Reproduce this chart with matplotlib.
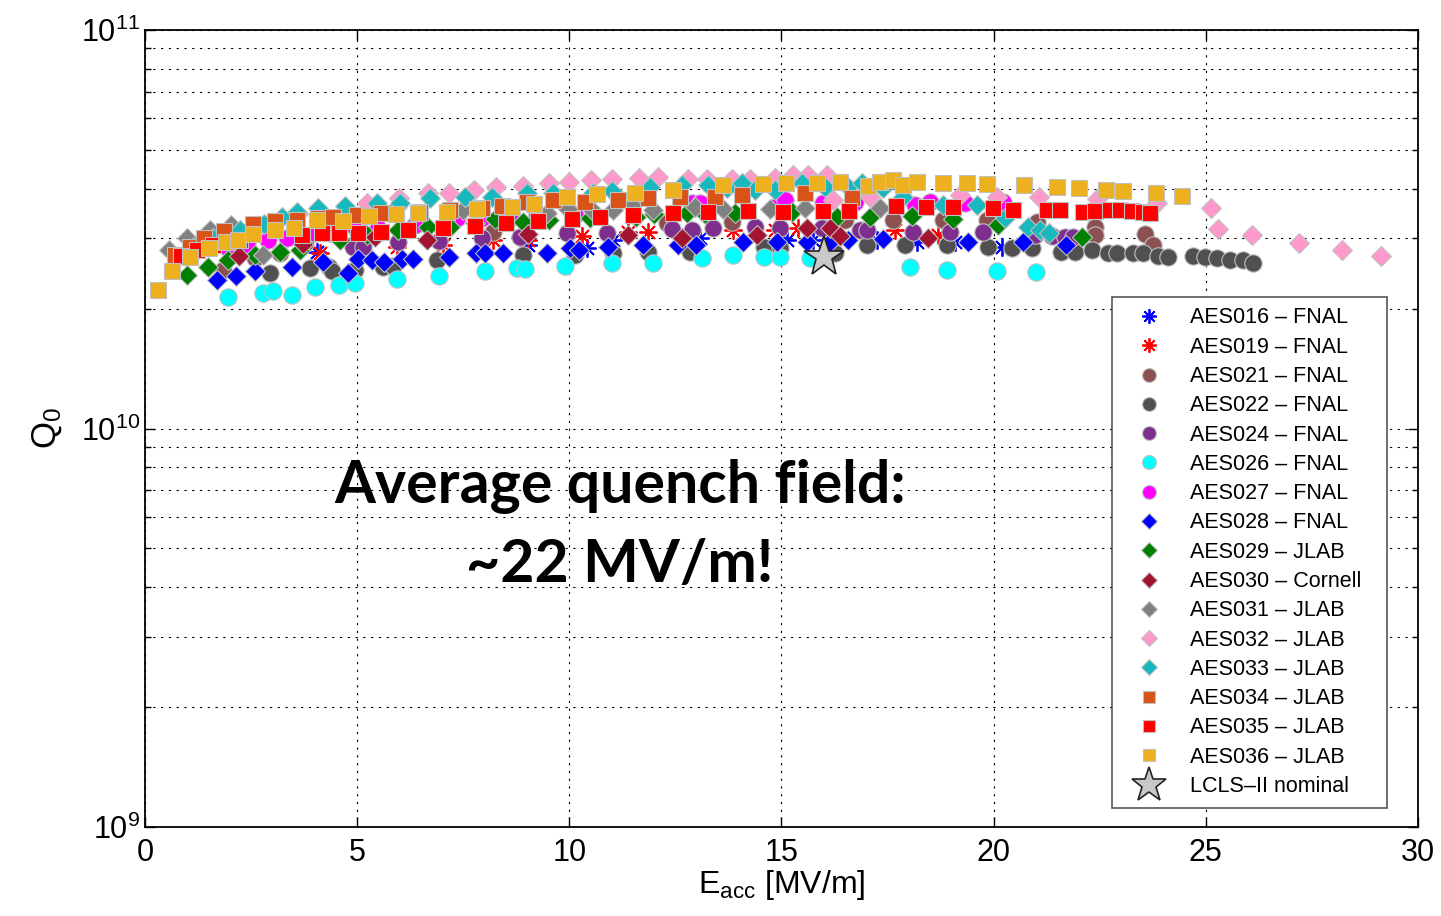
import matplotlib
matplotlib.use("Agg")
from matplotlib import pyplot as plt
from matplotlib.ticker import LogLocator, NullFormatter

plt.rcParams["font.family"] = ["Liberation Sans", "DejaVu Sans"]
plt.rcParams["mathtext.fontset"] = "custom"
plt.rcParams["mathtext.rm"] = "Liberation Sans"
plt.rcParams["mathtext.it"] = "Liberation Sans:italic"

# Q0 values in units of 1e10, Eacc in MV/m
aes016_x = [4.05, 9.03, 10.42, 11.03, 13.08, 15.13, 15.74, 17.25, 18.19, 19.09, 20.20]
aes016_q = [2.78, 2.89, 2.84, 2.97, 3.00, 2.97, 2.97, 2.97, 2.93, 2.93, 2.86]

aes019_x = [4.12, 5.94, 7.02, 8.20, 9.03, 10.30, 11.38, 11.85, 13.86, 14.85, 15.39, 17.68, 18.69]
aes019_q = [2.76, 2.86, 2.89, 2.97, 2.97, 3.04, 3.11, 3.11, 3.15, 3.15, 3.18, 3.15, 3.06]

aes021_x = [1.84, 2.59, 3.18, 3.77, 8.20, 12.30, 13.83, 16.50, 17.63, 18.81, 19.84, 21.02,
            22.39, 22.39, 23.57, 23.76]
aes021_q = [2.50, 2.68, 2.76, 2.92, 3.11, 3.28, 3.30, 3.34, 3.34, 3.34, 3.34, 3.30,
            3.20, 3.06, 3.07, 2.89]

aes022_x = [2.95, 3.89, 4.34, 4.41, 4.95, 5.61, 5.84, 6.88, 8.91, 10.13, 11.03, 11.85, 12.84,
            14.59, 14.97, 16.26, 17.02, 17.91, 18.90, 19.87, 20.43, 20.90, 21.59, 21.92,
            22.32, 22.70, 22.91, 23.29, 23.52, 23.87, 24.11, 24.70, 24.98, 25.27, 25.57,
            25.88, 26.11]
aes022_q = [2.46, 2.53, 2.55, 2.48, 2.50, 2.55, 2.56, 2.65, 2.73, 2.73, 2.76, 2.78, 2.78,
            2.86, 2.84, 2.76, 2.88, 2.88, 2.88, 2.86, 2.83, 2.83, 2.78, 2.78,
            2.81, 2.76, 2.75, 2.76, 2.75, 2.71, 2.70, 2.71, 2.70, 2.68, 2.65,
            2.65, 2.60]

aes024_x = [4.90, 5.14, 5.96, 6.93, 7.94, 8.84, 9.95, 10.89, 12.42, 12.89, 13.39, 14.38,
            14.97, 15.96, 16.85, 17.02, 18.10, 18.97, 19.75, 20.98, 21.38, 21.68, 21.87]
aes024_q = [2.86, 2.86, 2.94, 2.96, 3.00, 3.02, 3.09, 3.09, 3.17, 3.15, 3.18, 3.20,
            3.18, 3.18, 3.15, 3.15, 3.11, 3.11, 3.11, 3.06, 3.04, 3.02, 3.02]

aes026_x = [1.96, 2.78, 3.02, 3.46, 4.01, 4.57, 4.95, 5.94, 6.93, 8.01, 8.77, 8.96, 9.90,
            11.01, 11.97, 13.13, 13.86, 14.59, 14.97, 15.67, 18.03, 18.90, 20.08, 21.00]
aes026_q = [2.14, 2.19, 2.21, 2.16, 2.27, 2.29, 2.32, 2.37, 2.42, 2.48, 2.53, 2.52, 2.56,
            2.60, 2.60, 2.68, 2.73, 2.70, 2.70, 2.68, 2.54, 2.50, 2.48, 2.47]

aes027_x = [1.18, 1.96, 2.40, 2.90, 3.35, 4.01, 4.36, 4.95, 5.49, 6.36, 7.35, 7.94, 8.60,
            9.24, 10.13, 12.89, 13.08, 14.85, 15.08, 15.98, 16.73, 18.15, 18.50, 19.33, 20.22]
aes027_q = [2.89, 2.83, 2.89, 2.97, 3.00, 3.09, 3.09, 3.20, 3.18, 3.24, 3.38, 3.38, 3.38,
            3.43, 3.43, 3.68, 3.68, 3.60, 3.74, 3.68, 3.70, 3.64, 3.70, 3.68, 3.70]

aes028_x = [1.70, 2.14, 2.59, 3.46, 4.20, 4.78, 5.02, 5.35, 5.63, 6.06, 6.32, 7.16, 7.80,
            8.01, 8.44, 9.47, 10.02, 10.23, 10.91, 11.74, 12.56, 12.99, 14.09, 14.90,
            15.60, 16.14, 16.57, 17.39, 19.40, 20.69, 21.71]
aes028_q = [2.36, 2.42, 2.48, 2.55, 2.62, 2.46, 2.66, 2.65, 2.62, 2.66, 2.66, 2.70, 2.75,
            2.75, 2.75, 2.76, 2.83, 2.81, 2.86, 2.88, 2.89, 2.88, 2.93, 2.94,
            2.94, 2.94, 2.97, 2.99, 2.94, 2.94, 2.89]

aes029_x = [0.99, 1.48, 1.96, 2.59, 3.18, 3.65, 4.60, 5.23, 5.96, 6.67, 7.19, 7.78, 8.25,
            8.91, 9.52, 10.49, 11.57, 12.00, 12.77, 13.20, 13.91, 15.25, 16.31, 17.09,
            18.08, 19.04, 20.10, 22.08]
aes029_q = [2.43, 2.55, 2.65, 2.73, 2.78, 2.81, 2.97, 3.06, 3.15, 3.20, 3.20, 3.28, 3.36,
            3.30, 3.34, 3.38, 3.40, 3.45, 3.47, 3.45, 3.47, 3.49, 3.40, 3.40,
            3.41, 3.36, 3.24, 3.02]

aes030_x = [2.22, 3.72, 5.42, 6.65, 9.03, 11.38, 12.66, 14.42, 15.60, 16.14, 16.38, 18.45]
aes030_q = [2.71, 2.91, 3.02, 2.97, 3.07, 3.06, 3.00, 3.06, 3.18, 3.18, 3.04, 3.00]

aes031_x = [0.57, 0.99, 1.53, 2.03, 2.78, 5.94, 7.49, 9.47, 9.97, 10.54, 11.03, 11.48, 11.97,
            12.96, 13.62, 14.73, 15.56, 17.32]
aes031_q = [2.81, 3.00, 3.15, 3.24, 2.73, 3.60, 3.53, 3.47, 3.55, 3.53, 3.53, 3.64, 3.53,
            3.60, 3.55, 3.55, 3.58, 3.58]

aes032_x = [3.60, 5.23, 5.99, 6.67, 7.16, 7.75, 8.27, 8.91, 9.52, 9.99, 10.51, 11.01, 11.64,
            12.09, 12.80, 13.25, 13.83, 14.26, 14.85, 15.27, 15.63, 16.07, 16.22, 17.09,
            19.21, 20.08, 21.07, 22.44, 23.85, 25.12, 25.29, 26.09, 27.20, 28.21, 29.13]
aes032_q = [3.45, 3.68, 3.78, 3.89, 3.89, 3.97, 4.03, 4.05, 4.12, 4.15, 4.20, 4.24, 4.26,
            4.28, 4.24, 4.24, 4.24, 4.24, 4.26, 4.33, 4.33, 4.33, 3.74, 3.80,
            3.85, 3.80, 3.82, 3.76, 3.68, 3.58, 3.17, 3.06, 2.92, 2.81, 2.71]

aes033_x = [1.20, 1.60, 2.24, 2.80, 3.23, 3.58, 4.08, 4.71, 5.47, 6.01, 6.72, 7.54, 8.18,
            9.00, 9.62, 10.56, 11.01, 11.90, 12.66, 13.27, 13.72, 14.07, 14.38, 14.85,
            15.48, 16.03, 16.57, 16.90, 17.39, 17.86, 18.81, 19.61, 20.27, 20.81, 21.09, 21.31]
aes033_q = [2.89, 3.00, 3.15, 3.26, 3.40, 3.49, 3.58, 3.62, 3.68, 3.68, 3.78, 3.80, 3.80,
            3.91, 3.91, 3.91, 3.94, 4.03, 4.08, 4.08, 4.01, 4.12, 3.97, 3.97,
            4.12, 4.03, 4.03, 4.12, 4.01, 3.80, 3.64, 3.64, 3.38, 3.20, 3.15, 3.09]

aes034_x = [0.71, 1.06, 1.39, 1.86, 2.55, 3.06, 3.58, 4.08, 4.43, 5.00, 5.56, 6.48, 7.19,
            7.94, 8.41, 9.00, 9.62, 10.37, 11.15, 11.85, 12.61, 13.43, 14.07, 15.56, 16.66]
aes034_q = [2.73, 2.86, 3.00, 3.13, 3.26, 3.32, 3.34, 3.38, 3.40, 3.43, 3.47, 3.49, 3.53,
            3.58, 3.62, 3.70, 3.74, 3.70, 3.74, 3.78, 3.80, 3.80, 3.85, 3.89, 3.78]

aes035_x = [0.85, 1.23, 1.60, 2.24, 3.70, 4.17, 4.57, 5.02, 5.56, 6.20, 7.02, 7.78, 8.51,
            9.26, 10.06, 10.72, 11.50, 12.44, 13.27, 14.21, 15.04, 15.98, 16.59, 17.70,
            18.41, 19.04, 19.99, 20.46, 21.26, 21.56, 22.11, 22.39, 22.74, 22.98, 23.26,
            23.52, 23.69]
aes035_q = [2.71, 2.81, 2.89, 2.97, 3.06, 3.09, 3.09, 3.09, 3.11, 3.15, 3.18, 3.22, 3.28,
            3.32, 3.36, 3.39, 3.43, 3.47, 3.49, 3.51, 3.49, 3.51, 3.51, 3.62,
            3.60, 3.60, 3.58, 3.53, 3.53, 3.53, 3.49, 3.51, 3.53, 3.53, 3.51,
            3.49, 3.47]

aes036_x = [0.31, 0.64, 1.06, 1.51, 1.91, 2.19, 2.55, 3.06, 3.51, 4.05, 4.67, 5.28, 5.92,
            6.43, 7.12, 7.83, 8.65, 9.17, 9.95, 10.65, 11.55, 12.44, 13.62, 14.57, 15.11,
            15.84, 16.38, 17.04, 17.32, 17.63, 17.86, 18.19, 18.81, 19.37, 19.84, 20.72,
            21.49, 22.01, 22.65, 23.05, 23.83, 24.44]
aes036_q = [2.23, 2.48, 2.70, 2.83, 2.94, 2.98, 3.07, 3.15, 3.18, 3.34, 3.32, 3.41, 3.45,
            3.47, 3.49, 3.55, 3.60, 3.66, 3.80, 3.87, 3.91, 3.97, 4.08, 4.10, 4.12,
            4.12, 4.15, 4.06, 4.15, 4.20, 4.08, 4.15, 4.12, 4.12, 4.10, 4.08,
            4.03, 4.01, 3.97, 3.94, 3.89, 3.83]

lcls_x = [16.0]
lcls_q = [2.7]

labels = ["AES016 – FNAL", "AES019 – FNAL", "AES021 – FNAL", "AES022 – FNAL",
          "AES024 – FNAL", "AES026 – FNAL", "AES027 – FNAL", "AES028 – FNAL",
          "AES029 – JLAB", "AES030 – Cornell", "AES031 – JLAB", "AES032 – JLAB",
          "AES033 – JLAB", "AES034 – JLAB", "AES035 – JLAB", "AES036 – JLAB",
          "LCLS–II nominal"]

star8 = (8, 2, 0)
series = [
    (aes016_x, aes016_q, star8, "#0000FF", 13),
    (aes019_x, aes019_q, star8, "#FF0000", 13),
    (aes021_x, aes021_q, "o", "#8B5050", 12.5),
    (aes022_x, aes022_q, "o", "#505050", 12.5),
    (aes024_x, aes024_q, "o", "#7E2F8E", 12.5),
    (aes026_x, aes026_q, "o", "#00FFFF", 12.5),
    (aes027_x, aes027_q, "o", "#FF00FF", 12.5),
    (aes028_x, aes028_q, "D", "#0000FF", 10),
    (aes029_x, aes029_q, "D", "#008000", 10),
    (aes030_x, aes030_q, "D", "#A2142F", 10),
    (aes031_x, aes031_q, "D", "#808080", 10),
    (aes032_x, aes032_q, "D", "#FF99CC", 10),
    (aes033_x, aes033_q, "D", "#17B8BE", 10),
    (aes034_x, aes034_q, "s", "#D95319", 11),
    (aes035_x, aes035_q, "s", "#FF0000", 11),
    (aes036_x, aes036_q, "s", "#EDB120", 11),
]

fig = plt.figure(figsize=(14.41, 9.16), dpi=100)
ax = fig.add_axes([0.1006, 0.0972, 0.8834, 0.870])

for (xs, qs, mk, col, ms), lab in zip(series, labels):
    qv = [q * 1e10 for q in qs]
    if mk == star8:
        ax.plot(xs, qv, ls="none", marker=mk, ms=ms, mec=col, mew=1.3, label=lab)
    else:
        ax.plot(xs, qv, ls="none", marker=mk, ms=ms, mfc=col, mec="#C0C0C0",
                mew=0.8, label=lab)

ax.plot(lcls_x, [q * 1e10 for q in lcls_q], ls="none", marker="*", ms=30,
        mfc="#C8C8C8", mec="#222222", mew=1.2, label=labels[-1])

ax.set_yscale("log")
ax.set_xlim(0, 30)
ax.set_ylim(1e9, 1e11)
ax.set_xticks(range(0, 31, 5))
ax.yaxis.set_minor_locator(LogLocator(base=10, subs=range(2, 10)))
ax.yaxis.set_minor_formatter(NullFormatter())
ax.tick_params(which="both", direction="in", top=True, right=True, labelsize=22)
ax.tick_params(which="major", length=7, width=1)
ax.tick_params(which="minor", length=4, width=1)
ax.tick_params(axis="x", pad=8)
ax.grid(True, which="major", ls=(0, (2, 5)), color="black", lw=0.8)
ax.grid(True, which="minor", axis="y", ls=(0, (2, 5)), color="black", lw=0.8)
for sp in ax.spines.values():
    sp.set_linewidth(1.3)

ax.set_xlabel("E$_{\\mathrm{acc}}$ [MV/m]", fontsize=23, labelpad=0)
ax.set_ylabel("Q$_0$", fontsize=25, labelpad=12)

leg = ax.legend(loc="lower left", bbox_to_anchor=(0.760, 0.024, 0.216, 0.628),
                mode="expand", fontsize=15.5, frameon=True, fancybox=False,
                edgecolor="#555555", framealpha=1, markerscale=0.8,
                labelspacing=0.385, handlelength=2.4, handletextpad=0.7,
                borderpad=0.5, borderaxespad=0)
leg.get_frame().set_linewidth(1.2)
handles = leg.legend_handles
handles[-1].set_markersize(26)

ax.text(0.373, 0.378, "Average quench field:\n~22 MV/m!", transform=ax.transAxes,
        ha="center", va="center", fontsize=42.5, fontweight="bold",
        family=["Lato", "DejaVu Sans"], linespacing=1.55)

fig.savefig("out.png", dpi=100)
plt.close(fig)
